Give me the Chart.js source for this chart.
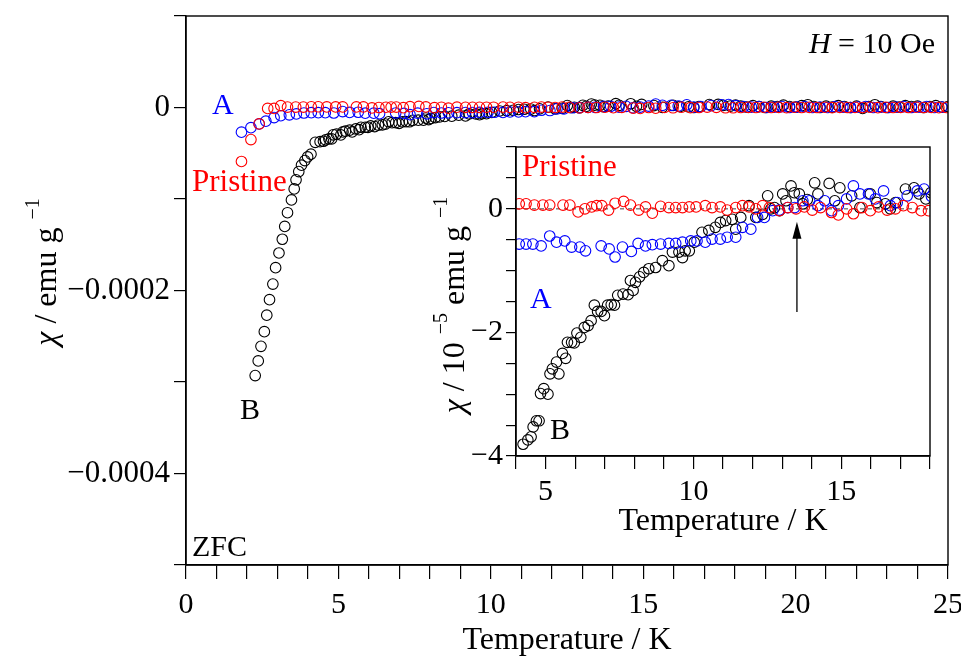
<!DOCTYPE html>
<html>
<head>
<meta charset="utf-8">
<script src="https://cdn.jsdelivr.net/npm/chart.js@4.4.1/dist/chart.umd.min.js"></script>
<style>
  body { margin: 0; background: #fff; }
  #wrap { position: relative; width: 961px; height: 660px; }
  #main { position: absolute; left: 0; top: 0; }
  #inset { position: absolute; left: 420px; top: 127px; }
</style>
</head>
<body>
<div id="wrap">
  <canvas id="main" width="961" height="660"></canvas>
  <canvas id="inset" width="530" height="420"></canvas>
</div>
<script>
// tick labels
const mainXLabels = [0, 5, 10, 15, 20, 25];
const mainYLabels = [0, -0.0002, -0.0004];
const insetXLabels = [5, 10, 15];
const insetYLabels = [0, -2, -4];

// chi values in units of 1e-5 emu/g, temperature in K
const tempPristine = [1.82, 2.13, 2.40, 2.68, 2.89, 3.11, 3.33, 3.60, 3.85,
  4.11, 4.34, 4.62, 4.91, 5.14, 5.59, 5.82, 6.10, 6.33, 6.56, 6.73, 6.90, 7.13, 7.35, 7.64, 7.87,
  8.15, 8.38, 8.61, 8.89, 9.17, 9.40, 9.63, 9.86, 10.09, 10.40, 10.63, 10.91, 11.14, 11.43, 11.66,
  11.88, 12.11, 12.34, 12.57, 12.91, 13.19, 13.47, 13.75, 14.02, 14.30, 14.67, 14.90, 15.18, 15.41,
  15.70, 15.98, 16.26, 16.55, 16.83, 17.10, 17.40, 17.70, 17.95, 18.20, 18.45, 18.70, 18.95, 19.20,
  19.45, 19.70, 19.95, 20.20, 20.45, 20.70, 20.95, 21.20, 21.45, 21.70, 21.95, 22.20, 22.45, 22.70,
  22.95, 23.20, 23.45, 23.70, 23.95, 24.20, 24.45, 24.70, 24.95];
const chiPristine = [-5.9, -3.5, -1.8, -0.1, -0.1, 0.2, 0.05, 0.05, 0.05,
  0.08, 0.08, 0.06, 0.06, 0.06, 0.06, 0.06, -0.05, 0.00, 0.03, 0.05, 0.05, -0.02, 0.09, 0.12, 0.06,
  -0.02, 0.03, -0.07, 0.04, 0.02, 0.02, 0.02, 0.03, 0.03, 0.05, 0.02, 0.03, -0.02, 0.02, 0.05,
  0.03, 0.00, 0.05, 0.02, -0.03, 0.02, 0.00, 0.03, -0.02, 0.02, -0.06, -0.10, 0.00, -0.08,
  0.02, -0.03, 0.03, -0.02, 0.00, 0.05, 0.02, -0.03, -0.03, 0.00, 0.02, 0.00, 0.03, 0.00,
  0.02, -0.02, 0.03, 0.00, 0.02, 0.00, 0.03, -0.02, 0.02, 0.00, 0.02, 0.00, 0.03, -0.02,
  0.02, 0.00, 0.02, 0.00, 0.03, 0.00, 0.02, -0.02, 0.00];

const tempA = [1.82, 2.13, 2.40, 2.62, 2.89, 3.11, 3.39, 3.62, 3.87,
  4.11, 4.34, 4.57, 4.85, 5.14, 5.37, 5.65, 5.88, 6.16, 6.35, 6.88, 7.15, 7.35, 7.60, 7.90, 8.13,
  8.38, 8.61, 8.89, 9.17, 9.40, 9.63, 9.91, 10.12, 10.40, 10.63, 10.91, 11.14, 11.43, 11.66, 11.94,
  12.17, 12.40, 12.68, 12.90, 13.19, 13.42, 13.70, 13.93, 14.21, 14.44, 14.67, 14.90, 15.18, 15.41,
  15.63, 15.92, 16.15, 16.43, 16.66, 16.89, 17.23, 17.57, 17.80, 18.05, 18.30, 18.55, 18.80, 19.05,
  19.30, 19.55, 19.80, 20.05, 20.30, 20.55, 20.80, 21.05, 21.30, 21.55, 21.80, 22.05, 22.30, 22.55,
  22.80, 23.05, 23.30, 23.55, 23.80, 24.05, 24.30, 24.55, 24.80];
const chiA = [-2.7, -2.2, -1.8, -1.5, -1.1, -0.9, -0.8, -0.7, -0.6,
  -0.57, -0.57, -0.57, -0.60, -0.44, -0.54, -0.52, -0.62, -0.62, -0.68, -0.60, -0.65, -0.78, -0.62, -0.69, -0.56,
  -0.60, -0.58, -0.57, -0.56, -0.56, -0.54, -0.52, -0.52, -0.54, -0.49, -0.49, -0.46, -0.46, -0.30, -0.33,
  -0.14, -0.14, -0.03, -0.02, 0.02, 0.02, 0.13, 0.13, 0.05, 0.13, -0.03, 0.05, 0.16, 0.37,
  0.24, 0.24, 0.16, 0.29, 0.05, 0.10, 0.21, 0.29, 0.32, 0.20, 0.10, 0.05, 0.10, 0.00,
  0.05, 0.10, 0.00, 0.05, 0.10, 0.00, 0.05, 0.00, 0.10, 0.05, 0.00, 0.05, 0.10, 0.00,
  0.05, 0.00, 0.05, 0.10, 0.00, 0.05, 0.10, 0.00, 0.05];

const tempB = [2.27, 2.37, 2.46, 2.57, 2.65, 2.74, 2.85, 2.94, 3.05, 3.16, 3.24, 3.33, 3.46, 3.55,
  3.61, 3.70, 3.79, 3.90, 3.99, 4.10,
  4.24, 4.40, 4.51, 4.58, 4.69, 4.78, 4.83, 4.94, 5.08, 5.15, 5.23, 5.37, 5.45, 5.57, 5.68, 5.74,
  5.88, 5.97, 6.06, 6.19, 6.31, 6.44, 6.54, 6.65, 6.76, 6.88, 6.99, 7.10, 7.22, 7.33, 7.44, 7.62,
  7.79, 7.87, 7.96, 8.04, 8.18, 8.32, 8.49, 8.72, 8.95, 9.17, 9.29, 9.51, 9.63, 9.72, 9.86, 10.03,
  10.29, 10.52, 10.74, 10.91, 11.09, 11.31, 11.43, 11.60, 11.88, 12.11, 12.34, 12.51, 12.62, 12.74,
  12.91, 13.02, 13.13, 13.30, 13.41, 13.58, 13.70, 13.85, 14.10, 14.21, 14.59, 14.78, 14.95, 15.35,
  15.63, 15.98, 16.20, 16.49, 16.66, 16.83, 17.17, 17.46, 17.63, 17.86, 18.03,
  18.20, 18.40, 18.60, 18.80, 19.00, 19.20, 19.40, 19.60, 19.80, 20.00, 20.20, 20.40, 20.60, 20.80,
  21.00, 21.20, 21.40, 21.60, 21.80, 22.00, 22.20, 22.40, 22.60, 22.80, 23.00, 23.20, 23.40, 23.60,
  23.80, 24.00, 24.20, 24.40, 24.60, 24.80, 25.00];
const chiB = [-29.3, -27.7, -26.1, -24.5, -22.7, -21.0, -19.3, -17.5, -15.9, -14.4, -13.0, -11.5, -10.1, -8.9,
  -7.9, -7.0, -6.3, -5.8, -5.4, -5.1,
  -3.81, -3.74, -3.69, -3.53, -3.43, -3.43, -2.99, -2.91, -3.00, -2.67, -2.59, -2.48, -2.67, -2.34, -2.42, -2.16,
  -2.16, -2.17, -2.01, -2.08, -1.92, -1.89, -1.81, -1.56, -1.66, -1.66, -1.73, -1.56, -1.55, -1.56, -1.40, -1.38,
  -1.39, -1.16, -1.32, -1.19, -1.10, -1.03, -0.97, -0.95, -0.84, -0.92, -0.70, -0.70, -0.79, -0.68, -0.68, -0.54,
  -0.38, -0.35, -0.30, -0.22, -0.19, -0.17, -0.33, -0.14, 0.05, -0.14, -0.09, 0.21, 0.00, 0.02,
  -0.03, 0.24, 0.13, 0.37, 0.26, 0.24, 0.08, 0.15, 0.42, 0.24, 0.41, 0.13, 0.34, 0.21,
  0.02, 0.24, 0.10, 0.08, 0.00, 0.10, 0.32, 0.34, 0.24, 0.16, 0.26,
  0.15, 0.05, 0.20, 0.10, 0.00, 0.15, 0.10, 0.25, 0.10, 0.05, 0.20, 0.30, 0.10, 0.00,
  0.15, 0.05, 0.20, 0.10, 0.00, 0.15, -0.10, 0.10, 0.30, 0.10, 0.00, 0.15, 0.05, 0.20,
  0.10, 0.15, 0.00, 0.10, 0.20, 0.05, 0.10];

// arrow in the inset (K, 1e-5 emu/g)
const arrowT = 13.5;
const arrowFrom = -1.67;
const arrowTo = -0.21;

const FONT = '"Liberation Serif", "Times New Roman", serif';
const RED = '#ff0000';
const BLUE = '#0000ff';

function points(temps, vals, factor, tMin, tMax) {
  let out = [];
  for (let i = 0; i < temps.length; i++) {
    if (temps[i] >= tMin && temps[i] <= tMax) {
      out.push({x: temps[i], y: vals[i] * factor});
    }
  }
  return out;
}

function makeSet(data, color) {
  return {
    data: data,
    showLine: false,
    pointStyle: 'circle',
    pointRadius: 5.3,
    pointBorderWidth: 1.1,
    pointBorderColor: color,
    pointBackgroundColor: 'rgba(0,0,0,0)',
    borderColor: color
  };
}

// text helpers, parts = [{t, size, italic, color, dy}]
function partFont(p, size) {
  return (p.italic ? 'italic ' : '') + (p.size || size) + 'px ' + FONT;
}
function drawRich(ctx, parts, x, y, size, align, angle) {
  ctx.save();
  ctx.translate(x, y);
  if (angle) ctx.rotate(angle);
  let w = 0;
  parts.forEach(p => { ctx.font = partFont(p, size); w += ctx.measureText(p.t).width; });
  let cx = align === 'center' ? -w / 2 : (align === 'right' ? -w : 0);
  ctx.textBaseline = 'middle';
  ctx.textAlign = 'left';
  parts.forEach(p => {
    ctx.font = partFont(p, size);
    ctx.fillStyle = p.color || '#000';
    ctx.fillText(p.t, cx, p.dy || 0);
    cx += ctx.measureText(p.t).width;
  });
  ctx.restore();
}
function fmtMinus(v, digits) {
  if (v === 0) return '0';
  return (v < 0 ? '\u2212' : '') + Math.abs(v).toFixed(digits);
}

function axisOpts(min, max, step, tick) {
  return {
    type: 'linear',
    min: min,
    max: max,
    ticks: { display: false, stepSize: step, autoSkip: false },
    grid: { drawOnChartArea: false, drawTicks: true, tickLength: tick, color: '#000', lineWidth: 1.2 },
    border: { display: true, color: '#000', width: 1.4 }
  };
}

const mainDeco = {
  id: 'mainDeco',
  afterDraw(chart) {
    const ctx = chart.ctx;
    const a = chart.chartArea;
    const sx = chart.scales.x, sy = chart.scales.y;
    ctx.save();
    ctx.strokeStyle = '#000';
    ctx.lineWidth = 1.4;
    ctx.strokeRect(a.left, a.top, a.right - a.left, a.bottom - a.top);
    ctx.restore();
    mainXLabels.forEach(v => drawRich(ctx, [{t: String(v)}], sx.getPixelForValue(v), a.bottom + 40, 30, 'center'));
    mainYLabels.forEach(v => drawRich(ctx, [{t: fmtMinus(v, 4)}], a.left - 16, sy.getPixelForValue(v), 31, 'right'));
    drawRich(ctx, [{t: 'Temperature / K'}], (a.left + a.right) / 2, 641, 32, 'center');
    drawRich(ctx, [{t: '\u03c7', italic: true}, {t: ' / emu g '}, {t: '\u22121', size: 20, dy: -14}],
      48, 272, 32, 'center', -Math.PI / 2);
    drawRich(ctx, [{t: 'H', italic: true}, {t: ' = 10 Oe'}], 935, 45, 30, 'right');
    drawRich(ctx, [{t: 'ZFC'}], 192, 548, 30, 'left');
    drawRich(ctx, [{t: 'A', color: BLUE}], 212, 106, 30, 'left');
    drawRich(ctx, [{t: 'Pristine', color: RED}], 192, 183, 31, 'left');
    drawRich(ctx, [{t: 'B'}], 240, 411, 30, 'left');
  }
};

const insetDeco = {
  id: 'insetDeco',
  beforeDatasetsDraw(chart) {
    const ctx = chart.ctx;
    const a = chart.chartArea;
    const y0 = chart.scales.y.getPixelForValue(0);
    ctx.save();
    ctx.strokeStyle = '#777';
    ctx.lineWidth = 1.4;
    ctx.setLineDash([4, 4]);
    ctx.beginPath();
    ctx.moveTo(a.left, y0);
    ctx.lineTo(a.right, y0);
    ctx.stroke();
    ctx.restore();
  },
  afterDraw(chart) {
    const ctx = chart.ctx;
    const a = chart.chartArea;
    const sx = chart.scales.x, sy = chart.scales.y;
    ctx.save();
    ctx.strokeStyle = '#000';
    ctx.lineWidth = 1.4;
    ctx.strokeRect(a.left, a.top, a.right - a.left, a.bottom - a.top);
    // arrow
    const ax = sx.getPixelForValue(arrowT);
    const ay1 = sy.getPixelForValue(arrowFrom);
    const ay2 = sy.getPixelForValue(arrowTo);
    ctx.lineWidth = 1.3;
    ctx.beginPath();
    ctx.moveTo(ax, ay1);
    ctx.lineTo(ax, ay2 + 8);
    ctx.stroke();
    ctx.fillStyle = '#000';
    ctx.beginPath();
    ctx.moveTo(ax, ay2);
    ctx.lineTo(ax - 4.5, ay2 + 17);
    ctx.lineTo(ax + 4.5, ay2 + 17);
    ctx.closePath();
    ctx.fill();
    ctx.restore();
    insetXLabels.forEach(v => drawRich(ctx, [{t: String(v)}], sx.getPixelForValue(v), a.bottom + 36, 30, 'center'));
    insetYLabels.forEach(v => drawRich(ctx, [{t: fmtMinus(v, 0)}], a.left - 13, sy.getPixelForValue(v), 30, 'right'));
    drawRich(ctx, [{t: 'Temperature / K'}], (a.left + a.right) / 2, 395, 32, 'center');
    drawRich(ctx, [{t: '\u03c7', italic: true}, {t: ' / 10 '}, {t: '\u22125', size: 20, dy: -14},
      {t: ' emu g '}, {t: '\u22121', size: 20, dy: -14}], 36, 178, 32, 'center', -Math.PI / 2);
    drawRich(ctx, [{t: 'Pristine', color: RED}], 102, 41, 31, 'left');
    drawRich(ctx, [{t: 'A', color: BLUE}], 110, 173, 30, 'left');
    drawRich(ctx, [{t: 'B'}], 130, 304, 30, 'left');
  }
};

new Chart(document.getElementById('main'), {
  type: 'scatter',
  data: {
    datasets: [
      makeSet(points(tempPristine, chiPristine, 1e-5, 0, 25), RED),
      makeSet(points(tempA, chiA, 1e-5, 0, 25), BLUE),
      makeSet(points(tempB, chiB, 1e-5, 0, 25), '#000')
    ]
  },
  options: {
    responsive: false,
    animation: false,
    layout: { padding: { left: 174, top: 16, right: 13, bottom: 81 } },
    plugins: { legend: { display: false }, tooltip: { enabled: false } },
    scales: {
      x: axisOpts(0, 25, 1, 14),
      y: axisOpts(-0.0005, 0.0001, 0.0001, 12)
    }
  },
  plugins: [mainDeco]
});

new Chart(document.getElementById('inset'), {
  type: 'scatter',
  data: {
    datasets: [
      makeSet(points(tempPristine, chiPristine, 1, 4, 18.1), RED),
      makeSet(points(tempA, chiA, 1, 4, 18.1), BLUE),
      makeSet(points(tempB, chiB, 1, 4, 18.1), '#000')
    ]
  },
  options: {
    responsive: false,
    animation: false,
    layout: { padding: { left: 86, top: 20, right: 20, bottom: 78 } },
    plugins: { legend: { display: false }, tooltip: { enabled: false } },
    scales: {
      x: axisOpts(4, 18, 1, 13),
      y: axisOpts(-4, 1, 0.5, 10)
    }
  },
  plugins: [insetDeco]
});
</script>
</body>
</html>
